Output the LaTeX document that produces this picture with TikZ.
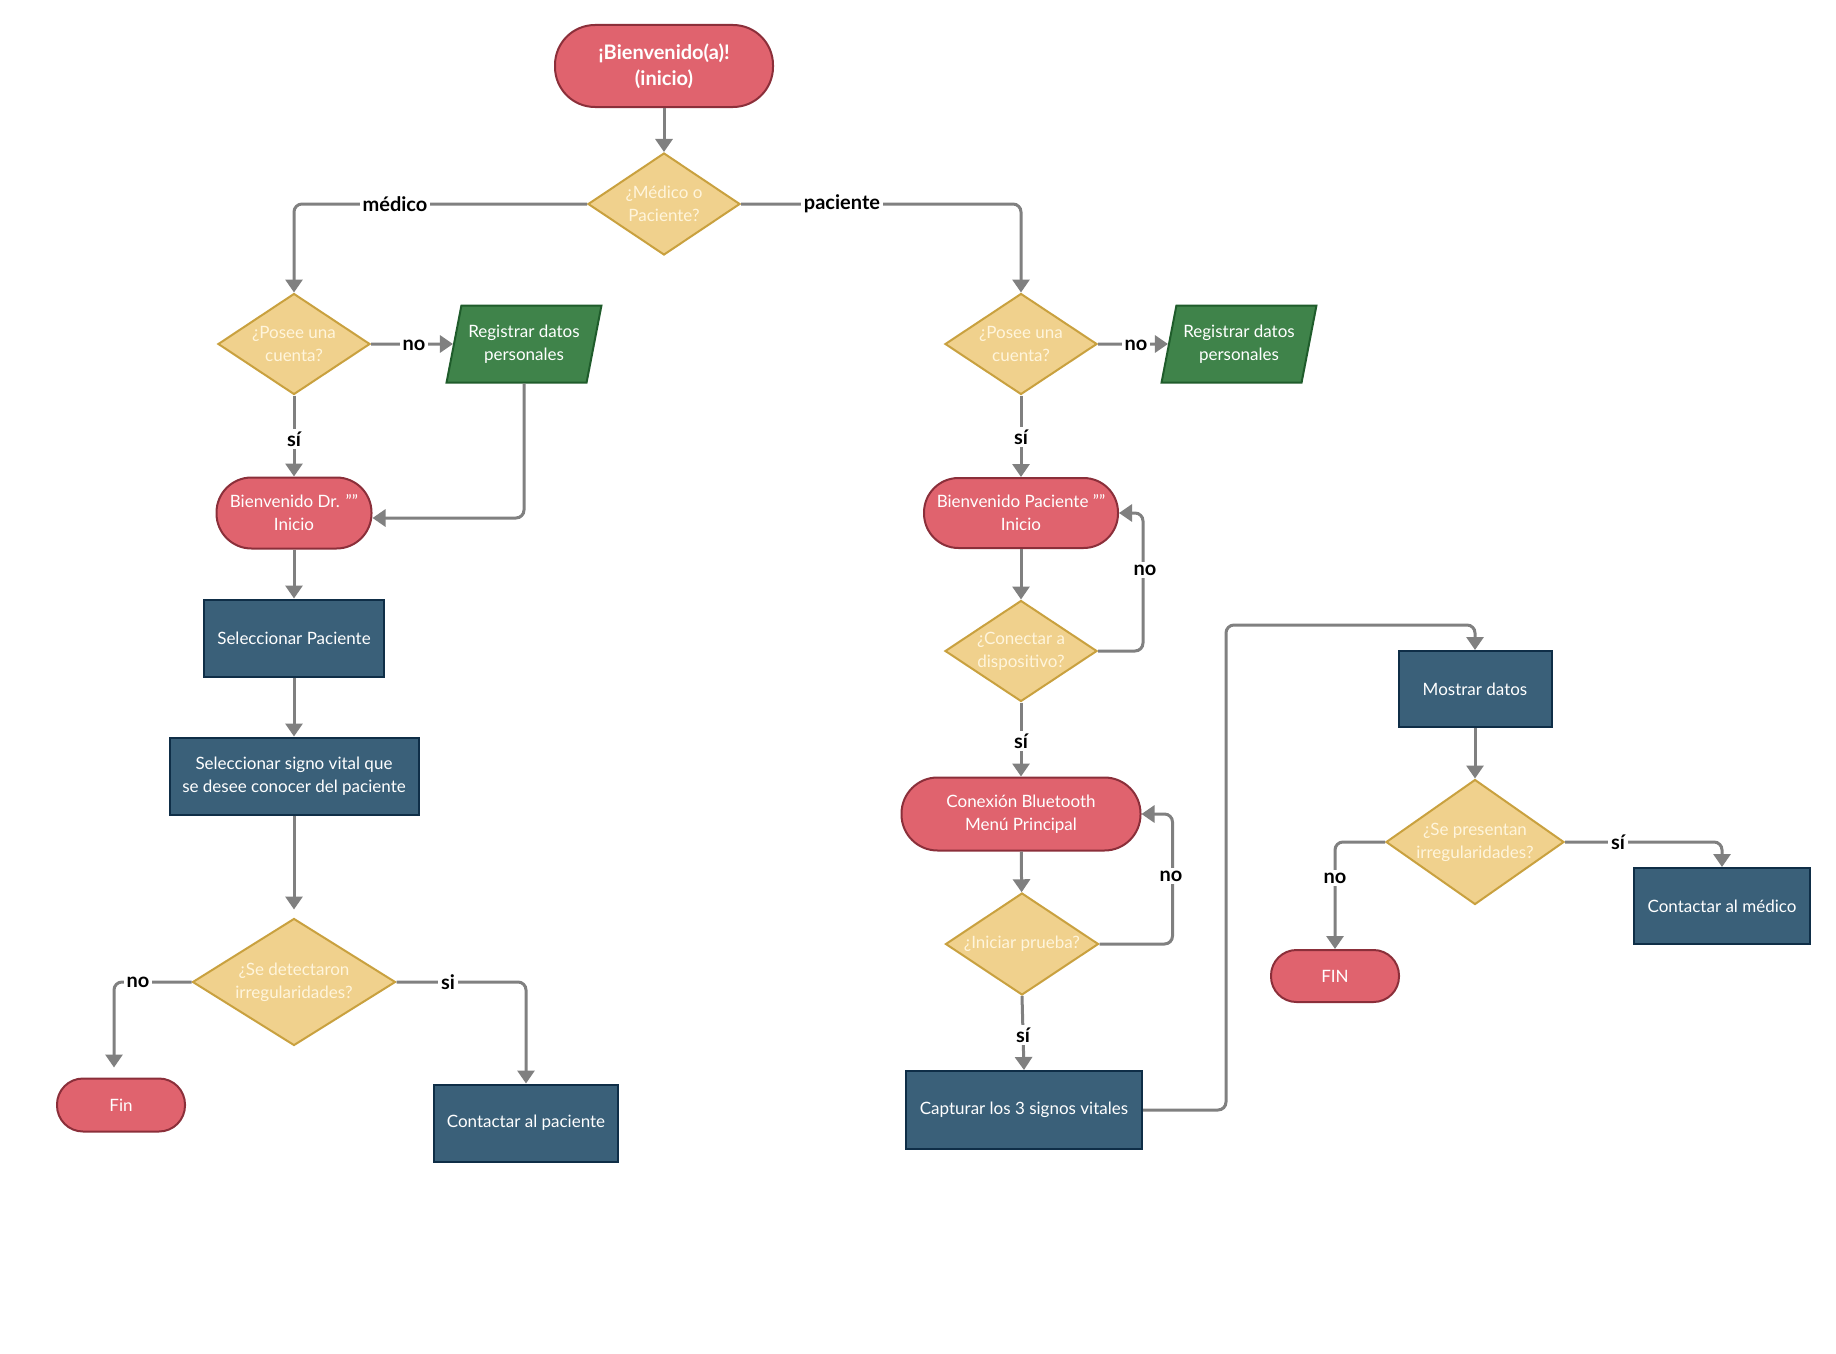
\documentclass[tikz,border=0pt]{standalone}
\usepackage{fontspec}
\setmainfont{Lato}
\usetikzlibrary{shapes.geometric,arrows.meta,calc}
\definecolor{termfill}{HTML}{E0636E}
\definecolor{termdraw}{HTML}{8B2F3A}
\definecolor{decfill}{HTML}{F0D18D}
\definecolor{decdraw}{HTML}{C9A13F}
\definecolor{dectext}{HTML}{FFF5DC}
\definecolor{grnfill}{HTML}{3F834A}
\definecolor{grndraw}{HTML}{1F5C2B}
\definecolor{bluefill}{HTML}{3A6079}
\definecolor{bluedraw}{HTML}{0F2E47}
\definecolor{linegray}{HTML}{808080}
\tikzset{
  nodefont/.style={font=\fontsize{17}{23}\selectfont},
  term/.style={rectangle, draw=termdraw, fill=termfill, line width=2pt, text=white, align=center, inner sep=0pt, nodefont},
  dec/.style={diamond, draw=decdraw, fill=decfill, line width=2pt, text=dectext, align=center, inner sep=0pt, aspect=1.5, nodefont},
  proc/.style={rectangle, draw=bluedraw, fill=bluefill, line width=2pt, text=white, align=center, inner sep=0pt, nodefont},
  iobox/.style={trapezium, trapezium left angle=71, trapezium right angle=109, trapezium stretches=true, draw=grndraw, fill=grnfill, line width=2pt, text=white, align=center, inner sep=0pt, minimum width=155pt, minimum height=77pt, nodefont},
  conn/.style={draw=linegray, line width=3pt, rounded corners=8pt, -{Triangle[width=17pt,length=13pt]}},
  lbl/.style={fill=white, text=black, inner sep=3pt, font=\bfseries\fontsize{20}{22}\selectfont}
}
\begin{document}
\begin{tikzpicture}[x=1pt,y=-1pt]
\fill[white] (0,0) rectangle (1836,1354);
\useasboundingbox (0,0) rectangle (1836,1354);

% ---- top ----
\node[term, minimum width=218pt, minimum height=82pt, rounded corners=40pt, font=\bfseries\fontsize{20}{26}\selectfont] (start) at (664,66) {¡Bienvenido(a)!\\(inicio)};
\node[dec, minimum width=152pt, minimum height=102pt] (d0) at (664,204) {¿Médico o\\Paciente?};

% ---- left (médico) ----
\node[dec, minimum width=152pt, minimum height=101pt] (pl) at (294,344) {¿Posee una\\cuenta?};
\node[iobox] (rl) at (524,344) {Registrar datos\\personales};
\node[term, minimum width=155pt, minimum height=71pt, rounded corners=35pt] (bdr) at (294,513) {Bienvenido Dr. ""\\Inicio};
\node[proc, minimum width=180pt, minimum height=77pt] (sp) at (294,638) {Seleccionar Paciente};
\node[proc, minimum width=249pt, minimum height=77pt] (ss) at (294,776) {Seleccionar signo vital que\\se desee conocer del paciente};
\node[dec, minimum width=203pt, minimum height=127pt] (sd) at (294,982) {¿Se detectaron\\irregularidades?};
\node[term, minimum width=128pt, minimum height=53pt, rounded corners=26pt] (fin) at (121,1105) {Fin};
\node[proc, minimum width=184pt, minimum height=77pt] (cp) at (526,1123) {Contactar al paciente};

% ---- right (paciente) ----
\node[dec, minimum width=152pt, minimum height=101pt] (pr) at (1021,344) {¿Posee una\\cuenta?};
\node[iobox] (rr) at (1239,344) {Registrar datos\\personales};
\node[term, minimum width=194pt, minimum height=70pt, rounded corners=34.5pt] (bp) at (1021,513) {Bienvenido Paciente ""\\Inicio};
\node[dec, minimum width=152pt, minimum height=101pt] (cd) at (1021,651) {¿Conectar a\\dispositivo?};
\node[term, minimum width=239pt, minimum height=73pt, rounded corners=36pt] (cb) at (1021,814) {Conexión Bluetooth\\Menú Principal};
\node[dec, minimum width=153pt, minimum height=102pt] (ip) at (1022,944) {¿Iniciar prueba?};
\node[proc, minimum width=236pt, minimum height=78pt] (cap) at (1024,1110) {Capturar los 3 signos vitales};
\node[proc, minimum width=153pt, minimum height=76pt] (md) at (1475,689) {Mostrar datos};
\node[dec, minimum width=178pt, minimum height=125pt] (spr) at (1475,842) {¿Se presentan\\irregularidades?};
\node[term, minimum width=128pt, minimum height=52pt, rounded corners=25.5pt] (fin2) at (1335,976) {FIN};
\node[proc, minimum width=176pt, minimum height=76pt] (cm) at (1722,906) {Contactar al médico};

% ---- connectors ----
\draw[conn] (start) -- (d0);
\draw[conn] (d0.west) -| (pl.north);
\draw[conn] (d0.east) -| (pr.north);
\draw[conn] (pl.east) -- (rl.west);
\draw[conn] (pl.south) -- (bdr.north);
\draw[conn] (rl.center |- rl.south) |- ([yshift=-5pt]bdr.east);
\draw[conn] (bdr) -- (sp);
\draw[conn] (sp) -- (ss);
\draw[conn, shorten >=8pt] (ss) -- (sd);
\draw[conn, shorten >=10pt] (sd.west) -| ([xshift=-7pt]fin.north);
\draw[conn] (sd.east) -| (cp.north);

\draw[conn] (pr.east) -- (rr.west);
\draw[conn] (pr.south) -- (bp.north);
\draw[conn] (bp) -- (cd);
\draw[conn] (cd.east) -- ++(45,0) |- (bp.east);
\draw[conn] (cd.south) -- (cb.north);
\draw[conn] (cb) -- (ip);
\draw[conn] (ip.east) -- ++(73,0) |- (cb.east);
\draw[conn] (ip.south) -- (cap.north);
\draw[conn] (cap.east) -- ++(83,0) |- ($(md.north)+(0,-25)$) -- (md.north);
\draw[conn] (md) -- (spr);
\draw[conn] (spr.west) -| (fin2.north);
\draw[conn] (spr.east) -| (cm.north);

% ---- labels ----
\node[lbl] (lmed) at (395,204) {médico};
\node[lbl] (lpac) at (842,204) {paciente};
\node[lbl] (lno1) at (414,345) {no};
\node[lbl] (lsi1) at (294,439) {sí};
\node[lbl] (lno2) at (138,982) {no};
\node[lbl] (lsi2) at (448,982) {si};
\node[lbl] (lno3) at (1136,345) {no};
\node[lbl] (lsi3) at (1021,437) {sí};
\node[lbl] (lno4) at (1145,570) {no};
\node[lbl] (lsi4) at (1021,741) {sí};
\node[lbl] (lno5) at (1171,876) {no};
\node[lbl] (lsi5) at (1023,1035) {sí};
\node[lbl] (lno6) at (1335,878) {no};
\node[lbl] (lsi6) at (1618,842) {sí};
\end{tikzpicture}
\end{document}
